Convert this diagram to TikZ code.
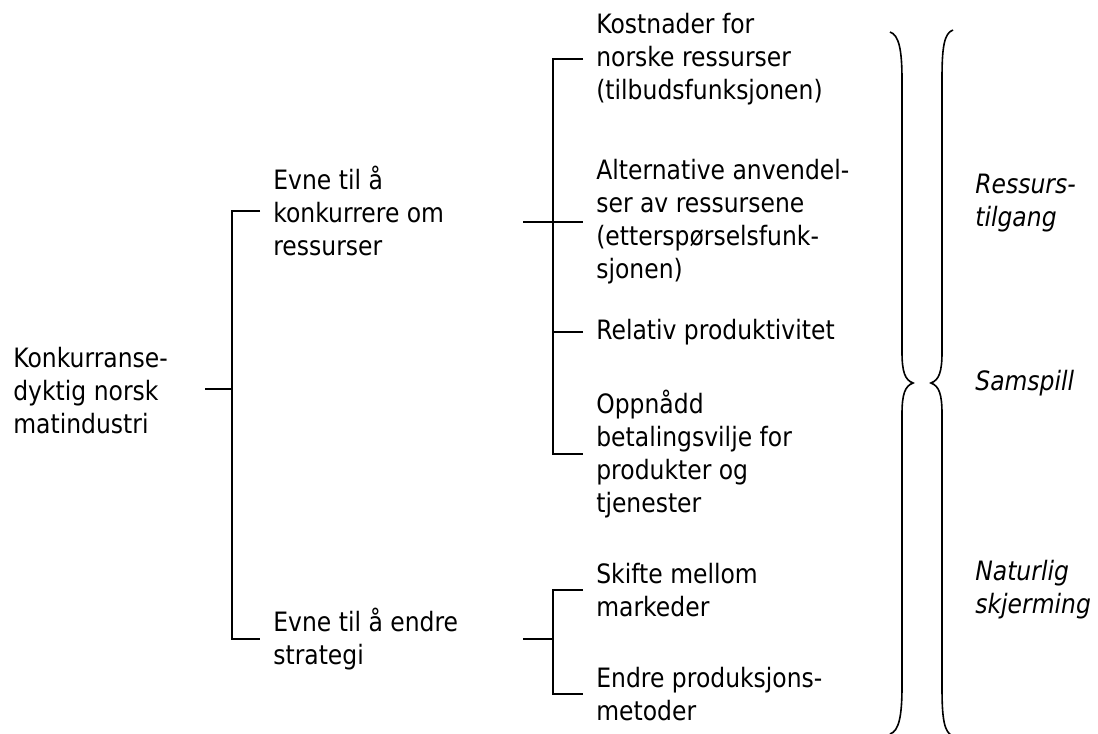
\documentclass[tikz,border=0pt]{standalone}
\usepackage{fontspec}
\setmainfont{DejaVu Sans}[FakeStretch=0.88]
\usetikzlibrary{positioning}

\begin{document}
\begin{tikzpicture}[x=0.75pt,y=-0.75pt,line width=1pt]
    \tikzstyle{item}=[anchor=west,align=left,inner xsep=9.5pt,inner ysep=0pt,font=\fontsize{20}{24.75}\selectfont]
    \tikzstyle{note}=[item,font=\fontsize{20}{24.75}\selectfont\itshape]
    \tikzstyle{brace}=[line width=1.2pt]
    \useasboundingbox (0,0) rectangle (1098,734);

	\node[item] (K) at (0,391) {Konkurranse-\\dyktig norsk\\matindustri};

	\node[item] (E-1) at (260,211) {Evne til å\\konkurrere om\\ressurser};
	\node[item] (E-2) at (260,639) {Evne til å endre\\strategi};

		 \node[item] (F-1) at (583,59) {Kostnader for\\norske ressurser\\(tilbudsfunksjonen)};
		 \node[item] (F-2) at (583,222) {Alternative anvendel-\\ser av ressursene\\(etterspørselsfunk-\\sjonen)};
		 \node[item] (F-3) at (583,332) {Relativ produktivitet};
		 \node[item] (F-4) at (583,454) {Oppnådd\\betalingsvilje for\\produkter og\\tjenester};

		 \node[item] (S-1) at (583,590) {Skifte mellom\\markeder};
		 \node[item] (S-2) at (583,694) {Endre produksjons-\\metoder};

	\node[note] (N-1) at (962,203) {Ressurs-\\tilgang};
	\node[note] (N-2) at (962,383) {Samspill};
	\node[note] (N-3) at (962,590) {Naturlig\\skjerming};

	% tree
	\coordinate (J-0) at (232,389);
	\draw (J-0) -- ++(-27,0);
	\draw (E-1.west) -| (J-0) |- (E-2.west);

	\coordinate (J-1) at (523,222);
	\coordinate (V-1) at (553,222);
	\draw (J-1) -- (F-2.west);
	\draw (F-1.west) -| (V-1) |- (F-4.west);
	\draw (F-3.west) -- (F-3.west -| V-1);

	\coordinate (J-2) at (523,639);
	\coordinate (V-2) at (553,639);
	\draw (J-2) -- (V-2);
	\draw (S-1.west) -| (V-2) |- (S-2.west);

	% braces
	\draw[brace] (890,32) .. controls (899,35) and (902,50) .. (902,80) -- (902,352)
		.. controls (902,372) and (905,380) .. (913,383)
		.. controls (905,386) and (902,394) .. (902,414) -- (902,686)
		.. controls (902,716) and (899,731) .. (890,734);
	\draw[brace] (953,30) .. controls (944,33) and (942,48) .. (942,78) -- (942,352)
		.. controls (942,372) and (939,380) .. (931,383)
		.. controls (939,386) and (942,394) .. (942,414) -- (942,688)
		.. controls (942,718) and (944,733) .. (953,736);
\end{tikzpicture}
\end{document}
